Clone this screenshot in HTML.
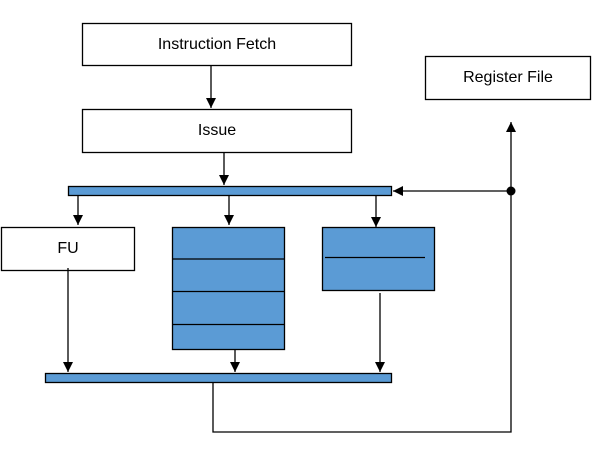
<!DOCTYPE html>
<html><head><style>body{margin:0;background:#fff}</style></head><body>
<svg width="602" height="462" viewBox="0 0 602 462" xmlns="http://www.w3.org/2000/svg" font-family="Liberation Sans, sans-serif">
<defs><marker id="a" viewBox="0 0 10 10" refX="10" refY="5" markerWidth="10" markerHeight="10" markerUnits="userSpaceOnUse" orient="auto"><path d="M0,0L10,5L0,10z" fill="#000"/></marker></defs>
<g stroke="#000" stroke-width="1.3" fill="none">
<rect x="82.5" y="23.5" width="269" height="42" fill="#fff"/>
<rect x="82.5" y="109.5" width="269" height="43" fill="#fff"/>
<rect x="425.5" y="56.5" width="165" height="43" fill="#fff"/>
<rect x="68.5" y="186.5" width="323" height="9" fill="#5b9bd5"/>
<rect x="1.5" y="227.5" width="133" height="43" fill="#fff"/>
<rect x="172.5" y="227.5" width="112" height="122" fill="#5b9bd5"/>
<line x1="172" y1="259" x2="284" y2="259"/><line x1="172" y1="291.5" x2="284" y2="291.5"/><line x1="172" y1="324.5" x2="284" y2="324.5"/>
<rect x="322.5" y="227.5" width="112" height="63" fill="#5b9bd5"/>
<line x1="325" y1="257.5" x2="425" y2="257.5"/>
<rect x="45.5" y="373.5" width="346" height="9" fill="#5b9bd5"/>
<line x1="211" y1="66" x2="211" y2="108" marker-end="url(#a)"/>
<line x1="224" y1="153" x2="224" y2="185" marker-end="url(#a)"/>
<line x1="78" y1="196" x2="78" y2="225" marker-end="url(#a)"/>
<line x1="229" y1="196" x2="229" y2="225" marker-end="url(#a)"/>
<line x1="376" y1="196" x2="376" y2="227" marker-end="url(#a)"/>
<line x1="68" y1="268" x2="68" y2="372" marker-end="url(#a)"/>
<line x1="235" y1="350" x2="235" y2="372" marker-end="url(#a)"/>
<line x1="380" y1="293" x2="380" y2="372" marker-end="url(#a)"/>
<polyline points="213,383 213,432 511,432 511,122" marker-end="url(#a)"/>
<line x1="511" y1="191" x2="393" y2="191" marker-end="url(#a)"/>
</g>
<circle cx="511" cy="191" r="4.5" fill="#000"/>
<g font-size="16" text-anchor="middle" fill="#000">
<text x="217" y="49">Instruction Fetch</text>
<text x="217" y="135">Issue</text>
<text x="508" y="82">Register File</text>
<text x="68" y="253">FU</text>
</g>
</svg>
</body></html>
